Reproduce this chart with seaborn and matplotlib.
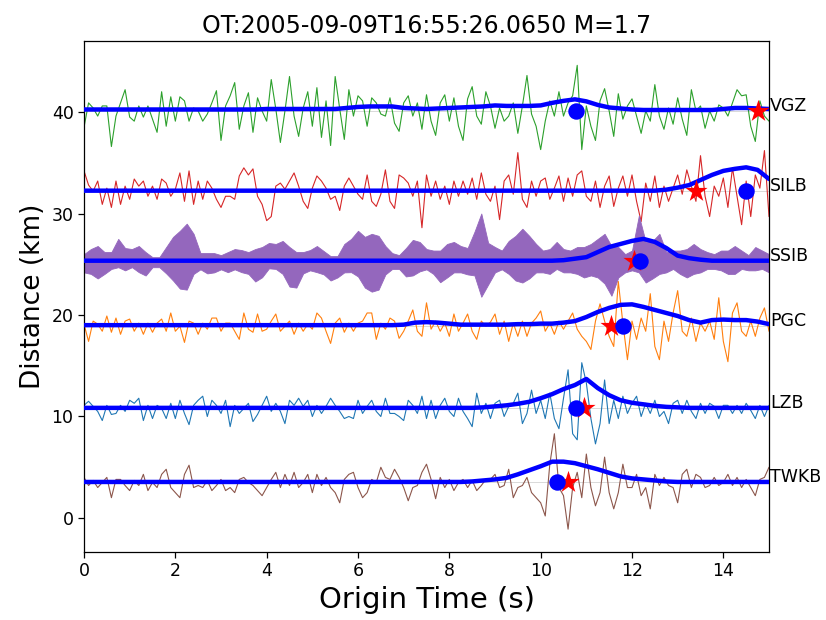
import numpy as np
import pandas as pd
import seaborn as sns
import matplotlib
matplotlib.use("Agg")
import matplotlib.pyplot as plt

plot_title = 'OT:2005-09-09T16:55:26.0650 M=1.7'

stations = ['VGZ', 'SILB', 'SSIB', 'PGC', 'LZB', 'TWKB']
dist_km = [40.1, 32.2, 25.3, 18.9, 10.8, 3.5]
trace_colors = ['tab:green', 'tab:red', 'tab:purple', 'tab:orange', 'tab:blue', 'tab:brown']

# picks (s)
pick_dot = [10.78, 14.5, 12.18, 11.8, 10.78, 10.36]
pick_star = [14.75, 13.4, 12.05, 11.55, 10.95, 10.6]

# waveforms, offset from station distance, sampled every 0.1 s over 0-15 s
vgz = [-1.6, 0.8, 0.3, -0.5, 0.5, 0.5, -3.5, -0.5, 0.8, 2.1,
       -0.6, -1.0, 0.5, -0.6, 0.5, -0.8, -2.1, 1.9, -1.5, 1.4,
       -1.0, 1.4, 1.0, -1.0, 0.3, 0.0, -1.0, -0.3, 0.8, 2.0,
       -2.9, 0.5, 1.5, 2.8, -1.8, 0.5, 1.8, -2.1, 1.3, 0.0,
       -1.0, 3.1, 0.2, -3.1, 0.0, 3.4, -0.5, -2.5, 0.3, 1.9,
       -1.5, 2.3, -2.6, 1.0, -3.4, 3.4, 0.2, -2.8, 2.1, -0.5,
       1.5, 1.0, -1.5, 1.3, 0.8, -0.3, -0.5, 1.3, -1.2, -2.0,
       0.8, 1.5, -0.5, 0.8, -1.8, 1.6, -1.0, -2.4, 0.8, 1.6,
       -1.0, 1.3, -1.5, -2.9, 1.2, 2.4, -0.5, -1.3, 1.9, 0.5,
       -1.7, 0.3, -1.0, -0.5, 0.8, -2.2, 0.5, 3.5, -0.3, -1.5,
       -3.8, -1.0, 1.0, -0.5, 1.9, -0.5, 0.8, 1.5, 4.5, -3.8,
       0.5, -1.5, -2.9, 1.0, 2.2, 0.0, -2.5, 1.7, -0.8, 0.5,
       1.2, -0.5, -2.2, 0.0, -1.0, 2.6, -0.5, -1.8, 0.3, -1.3,
       1.3, -0.8, -2.4, 2.1, 0.0, 0.5, -1.7, 0.0, -1.0, 0.6,
       0.3, -0.5, 0.8, 2.1, 1.5, 1.6, -1.5, -3.0, 1.0, -0.5, -1.0]
silb = [2.0, 0.6, 0.0, 1.0, -1.3, 0.3, -1.6, 1.0, -1.3, 0.5,
        -0.8, 1.2, 0.5, 1.0, -0.5, 0.5, -0.8, 1.2, 0.8, -0.5,
        0.2, 1.8, -1.0, 2.0, -1.3, 1.0, -0.8, 1.0, 0.3, -0.8,
        -1.6, -0.5, -0.5, -0.8, 1.5, 2.3, 1.6, 2.2, -0.5, -1.3,
        -2.9, -2.5, 0.5, 0.8, 0.2, 1.0, 1.8, 0.5, -1.0, -1.7,
        0.3, 1.5, 1.0, 0.3, -0.8, -0.5, -1.9, 0.5, 1.3, 0.5,
        -0.3, -0.8, 1.6, -1.0, -1.5, -0.3, 2.1, -1.0, -1.7, 1.6,
        1.3, 0.8, -0.5, 1.0, -3.6, 1.6, -0.5, 1.0, -0.8, 0.5,
        -1.3, 1.0, -0.5, 1.0, -0.3, 1.3, -0.8, 1.8, -0.3, -1.0,
        0.5, -2.8, 1.0, 1.6, -0.3, 3.8, -0.8, -1.6, 1.0, -0.5,
        1.0, 1.3, -0.8, 0.3, 1.5, -1.0, 1.3, -0.5, 1.6, 2.0,
        -0.5, -1.0, 1.0, -1.6, 0.5, 1.5, -1.5, 0.3, 1.5, -0.5,
        1.6, -1.0, -3.0, 0.8, -1.0, 1.5, -1.6, 0.5, -1.0, 0.3,
        1.6, -0.3, 2.1, 0.5, -1.0, 3.5, -0.5, -2.5, 0.5, -0.5,
        1.3, -1.6, 2.3, -0.5, -3.3, 1.0, -2.5, 1.6, 0.3, 4.0, -2.5]
pgc = [0.2, -1.5, 0.5, 0.2, -0.5, 1.0, -0.6, 0.8, -0.8, 0.5,
       0.7, -0.5, 0.3, -0.8, 0.3, -0.6, 0.3, 0.7, -0.5, 1.3,
       -0.5, 0.0, -1.6, 0.5, 0.3, -0.8, 0.3, -0.3, 0.8, 0.8,
       -0.5, 0.3, 0.3, -0.5, -1.3, 1.3, -0.3, -0.6, 1.2, -0.5,
       -0.3, 0.5, 1.2, -0.5, 0.0, 0.5, -0.8, 0.3, -0.5, 0.2,
       -0.3, 1.3, 0.8, -0.5, -1.7, 0.3, 0.8, -0.6, 0.3, -0.5,
       0.3, 0.5, 1.3, 1.3, -1.3, 0.3, -0.3, 0.8, 0.5, -1.2,
       -0.5, 0.5, 1.6, -0.5, -1.0, 2.3, -0.3, 0.5, -0.5, 0.3,
       -1.0, 1.2, -0.5, 0.3, 1.2, -0.5, -1.3, 0.5, 0.0, 0.4,
       1.2, -0.8, 0.5, -1.5, 0.3, -1.0, 0.5, -1.0, 0.3, 0.8,
       1.5, -0.5, 0.3, -0.8, 0.5, -0.3, 0.5, 1.3, -0.3, -1.0,
       -1.5, -2.3, 0.5, 2.2, 0.5, -1.0, -2.0, 4.4, 0.3, -3.3,
       0.5, -1.3, 0.8, -0.5, 3.2, -2.0, -3.3, 0.5, -1.5, 1.3,
       3.5, -0.5, -1.0, 0.8, -1.5, 0.3, -0.5, 0.5, -1.3, 2.8,
       -1.5, -3.5, 1.3, 2.3, -0.5, -1.0, 0.5, -1.0, 0.8, 1.8, -0.5]
lzb = [0.3, 0.7, 0.2, -0.3, -1.2, 0.3, -0.6, -0.5, 0.3, -0.3,
       0.8, 0.5, 1.0, -1.2, 0.3, -1.0, 0.3, 0.0, -1.0, 0.5,
       -1.0, 0.8, -0.5, -1.6, 0.3, 0.8, 1.2, -0.8, 0.8, 0.3,
       -0.5, 0.8, -1.8, 0.3, -0.5, 0.0, 0.5, -1.3, -0.6, 0.3,
       1.2, -0.3, 0.5, -0.3, -1.5, 0.8, 0.3, 1.0, 0.2, 0.8,
       -0.8, 0.3, -0.5, 0.2, 1.0, 0.3, -0.3, -1.0, -0.8, -1.0,
       0.8, -0.5, 0.2, 0.8, -0.3, -0.8, 1.0, -0.5, -0.5, -0.8,
       -1.2, 0.8, 0.3, -0.5, 1.2, -1.0, 0.8, -1.0, 0.3, 1.0,
       -0.3, -0.8, 1.0, -0.3, -1.0, -1.8, 1.5, -0.5, 0.5, -1.0,
       0.5, 0.8, -0.8, 0.2, 0.5, 1.5, -1.5, -0.5, 1.8, -0.5,
       0.8, -1.0, 1.5, -1.0, -2.0, 1.0, 3.8, -2.5, -3.1, 4.5,
       2.5, -1.0, -3.5, -1.5, 2.8, -1.5, 0.8, -1.0, 1.2, -0.5,
       0.5, 1.2, -0.8, 0.5, -0.5, 0.8, -0.8, -0.3, -1.5, 0.5,
       0.8, -0.5, 0.8, -0.3, -1.0, 0.5, -0.5, 0.5, 0.2, -1.0,
       0.3, 0.3, -0.5, 0.3, -0.5, 0.5, -0.2, -1.0, 0.3, -0.8, 0.3]
twkb = [0.5, -0.3, 0.2, -0.5, 0.0, 0.5, -1.5, 0.3, 0.3, -0.3,
        -0.8, 0.2, -0.3, 0.8, -0.8, 0.0, -0.5, 0.8, 1.3, -0.5,
        -1.0, -1.5, 0.8, 1.7, -0.5, -0.3, -0.5, 0.2, -0.8, -0.3,
        0.3, -0.8, -0.5, -1.0, 0.3, 0.5, 0.0, -0.3, -0.8, -1.3,
        -0.5, 0.3, 1.0, -0.5, 0.8, -0.3, 1.0, -0.5, 0.0, 0.8,
        -1.0, 0.8, -0.3, 0.5, -0.5, -1.0, -2.0, 0.3, 0.8, 1.0,
        -0.5, -1.5, -1.0, 0.3, 0.0, 1.5, 0.5, 0.3, 1.3, 0.5,
        -0.5, -1.8, -0.5, -0.3, 1.0, 1.8, 0.3, -1.6, 0.5, -0.5,
        0.3, -0.8, 0.0, 0.3, -0.5, 0.2, -0.8, -0.3, 0.3, 0.3,
        0.8, -0.5, -0.3, 1.3, -1.5, -0.5, -0.3, 0.5, -1.0, -1.5,
        -2.0, -3.3, 1.8, 4.8, -0.5, -1.3, -4.6, -0.5, 1.0, -1.5,
        2.8, -0.5, -2.3, -1.0, 2.5, -1.0, -2.6, -1.0, 1.8, -0.5,
        -0.5, 0.8, -1.3, -0.5, -2.6, 0.8, -0.3, 0.5, -0.3, -0.5,
        -2.0, 0.8, 1.3, -0.5, 0.8, 0.5, -0.5, -0.3, 0.5, -0.3,
        0.0, 0.8, -0.3, 0.5, -0.5, 0.3, -0.5, -1.3, 0.3, 0.5, 1.5]

# SSIB is very high frequency: upper / lower envelope every 0.15 s
ssib_up = [0.7, 1.2, 1.5, 0.9, 0.9, 2.2, 1.3, 1.2, 1.5, 0.9,
           0.4, 0.4, 1.4, 2.4, 3.0, 3.7, 2.7, 0.8, 0.8, 0.8,
           0.6, 0.9, 1.2, 1.1, 0.9, 1.2, 1.4, 1.8, 1.7, 2.0,
           1.4, 0.9, 0.9, 1.1, 1.5, 1.0, 0.5, 0.5, 1.7, 2.2,
           3.0, 2.4, 2.7, 2.5, 1.5, 0.8, 0.6, 1.3, 2.1, 1.9,
           1.2, 1.05, 1.05, 1.7, 1.9, 1.5, 1.3, 2.9, 4.7, 1.8,
           1.4, 1.05, 2.0, 2.5, 3.2, 2.5, 1.7, 1.05, 1.2, 1.9,
           1.2, 1.05, 1.4, 1.4, 1.7, 2.2, 2.7, 1.5, 1.4, 0.7,
           1.05, 4.5, 1.9, 2.0, 2.7, 0.9, 1.05, 1.05, 1.2, 1.7,
           1.2, 0.9, 0.7, 1.05, 1.05, 1.5, 1.05, 0.6, 1.4, 1.05, 0.7]
ssib_lo = [-1.1, -1.25, -1.7, -1.25, -0.76, -0.59, -0.9, -0.59, -1.08, -1.41,
           -0.59, -0.59, -1.2, -1.9, -2.7, -2.8, -1.25, -0.8, -1.2, -1.1,
           -0.8, -1.08, -0.8, -1.08, -1.25, -2.0, -1.58, -0.7, -0.76, -1.25,
           -2.5, -2.6, -1.2, -0.9, -1.08, -1.3, -1.9, -1.6, -1.1, -1.08,
           -1.5, -2.6, -3.0, -2.8, -1.3, -0.76, -0.76, -1.5, -1.4, -1.0,
           -0.8, -1.25, -2.07, -1.6, -1.1, -1.1, -1.3, -1.4, -3.5, -2.3,
           -1.1, -0.8, -1.25, -1.9, -2.1, -1.7, -1.1, -1.1, -1.25, -0.76,
           -1.1, -1.1, -1.25, -1.6, -1.4, -1.6, -2.2, -3.4, -1.6, -1.1,
           -0.9, -1.1, -2.1, -1.7, -1.25, -1.1, -0.76, -1.25, -1.6, -1.25,
           -1.1, -0.76, -0.76, -0.9, -1.25, -1.25, -0.76, -0.9, -0.9, -0.76, -1.1]

# smoothed envelopes (offset above station distance), every 0.25 s
env_vgz = [0.15] * 16 + [0.2] * 5 + [
    0.2, 0.2, 0.3, 0.4, 0.45, 0.45, 0.45, 0.3, 0.25, 0.2,
    0.25, 0.3, 0.35, 0.4, 0.45, 0.55, 0.5, 0.5, 0.5, 0.55,
    0.8, 1.0, 1.15, 0.95, 0.6, 0.35, 0.25, 0.15] + [0.1] * 7 + [0.2, 0.3, 0.3, 0.25, 0.2]
env_silb = [0.05] * 51 + [0.15, 0.35, 0.6, 1.1, 1.6, 2.0, 2.2, 2.35, 2.1, 1.2]
env_ssib = [0.05] * 42 + [0.1, 0.25, 0.4, 0.9, 1.4, 1.7, 2.0, 2.2, 1.9, 1.3,
                          0.55, 0.3, 0.15, 0.05] + [0.05] * 5
env_pgc = [0.1] * 28 + [0.15, 0.35, 0.4, 0.35, 0.25, 0.15, 0.15, 0.15, 0.15, 0.15,
                        0.2, 0.2, 0.25, 0.25, 0.35, 0.5, 0.9, 1.4, 1.8, 2.1,
                        2.15, 1.9, 1.6, 1.3, 1.0, 0.6, 0.35, 0.6, 0.65, 0.6,
                        0.6, 0.45, 0.2]
env_lzb = [0.05] * 35 + [0.1, 0.2, 0.3, 0.45, 0.65, 1.0, 1.4, 1.9, 2.3, 2.9,
                         2.0, 1.3, 0.8, 0.55, 0.4, 0.25, 0.15, 0.1] + [0.05] * 8
env_twkb = [0.05] * 34 + [0.1, 0.2, 0.3, 0.45, 0.8, 1.2, 1.6, 2.05, 2.05, 1.9,
                          1.6, 1.3, 0.95, 0.6, 0.4, 0.3, 0.2, 0.1] + [0.05] * 9

traces = {'VGZ': vgz, 'SILB': silb, 'PGC': pgc, 'LZB': lzb, 'TWKB': twkb}
envs = [env_vgz, env_silb, env_ssib, env_pgc, env_lzb, env_twkb]

sns.set_theme(style="ticks", context="notebook",
              rc={'text.color': 'black', 'axes.labelcolor': 'black',
                  'xtick.color': 'black', 'ytick.color': 'black',
                  'axes.edgecolor': 'black'})
plt.rcParams['font.family'] = ['DejaVu Sans']

fig = plt.figure(figsize=(8.26, 6.2), dpi=100)
ax = fig.add_axes([0.1017, 0.1097, 0.8293, 0.8242])

for name, d, col, env in zip(stations, dist_km, trace_colors, envs):
    ax.axhline(d, color='lightgray', lw=0.6, zorder=1)
    if name == 'SSIB':
        ts = np.linspace(0, 15, len(ssib_up))
        ax.fill_between(ts, d + np.array(ssib_lo), d + np.array(ssib_up),
                        color=col, lw=0.6, zorder=2)
    else:
        y = np.array(traces[name])
        sns.lineplot(x=np.linspace(0, 15, len(y)), y=d + y, color=col,
                     lw=0.8, estimator=None, ax=ax, zorder=2)
    te = np.linspace(0, 15, len(env))
    sns.lineplot(x=te, y=d + np.array(env), color='blue', lw=3.2,
                 estimator=None, ax=ax, zorder=3)
    ax.text(15.02, d, name, fontsize=12.5, color='black', zorder=6)

picks = pd.DataFrame({'dist': dist_km, 'dot': pick_dot, 'star': pick_star})
sns.scatterplot(data=picks, x='star', y='dist', marker='*', s=280,
                color='red', edgecolor='red', lw=0, ax=ax, zorder=4)
sns.scatterplot(data=picks, x='dot', y='dist', marker='o', s=140,
                color='blue', edgecolor='blue', lw=0, ax=ax, zorder=5)

ax.set_xlim(0, 15)
ax.set_ylim(-3.35, 47.0)
ax.set_xticks(np.arange(0, 15, 2))
ax.set_yticks([0, 10, 20, 30, 40])
ax.tick_params(labelsize=12.5, length=4, width=0.9, colors='black')
for s in ax.spines.values():
    s.set_color('black')
    s.set_linewidth(0.9)
ax.set_xlabel('Origin Time (s)', fontsize=21, color='black')
ax.set_ylabel('Distance (km)', fontsize=19, color='black')
ax.set_title(plot_title, fontsize=17, color='black')

fig.savefig('out.png', dpi=100)
